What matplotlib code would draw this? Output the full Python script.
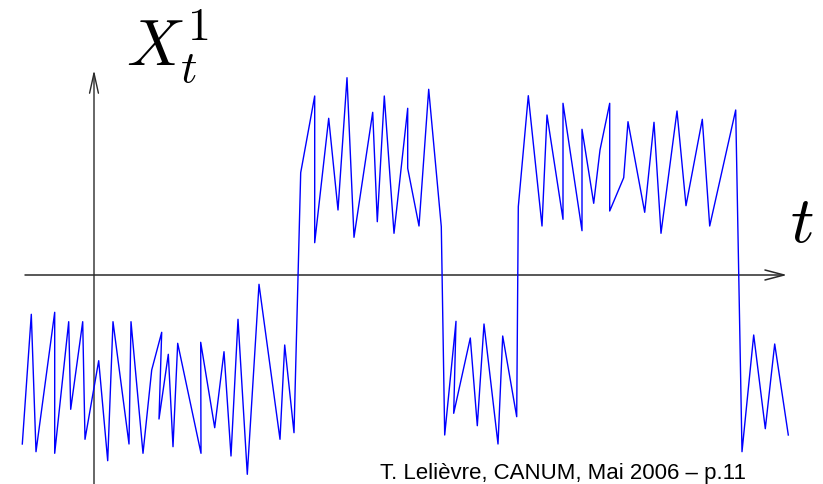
import matplotlib
matplotlib.use("Agg")
import matplotlib.pyplot as plt

plt.rcParams['mathtext.fontset'] = 'cm'

# Path of X_t^1 (time t, value X)
t_vals = [-0.717, -0.627, -0.58, -0.393, -0.393, -0.253, -0.233, -0.113, -0.09, 0.047,
          0.137, 0.19, 0.35, 0.37, 0.49, 0.577, 0.677, 0.65, 0.743, 0.79,
          0.837, 1.07, 1.067, 1.207, 1.30, 1.37, 1.44, 1.533, 1.65, 1.86,
          1.907, 2.00, 2.067, 2.207, 2.207, 2.347, 2.44, 2.53, 2.60, 2.787,
          2.833, 2.903, 3.00, 3.137, 3.137, 3.25, 3.347, 3.473, 3.507, 3.62,
          3.597, 3.763, 3.833, 3.90, 4.04, 4.087, 4.227, 4.243, 4.343, 4.48,
          4.53, 4.69, 4.69, 4.88, 4.88, 4.997, 5.06, 5.157, 5.157, 5.297,
          5.34, 5.507, 5.60, 5.67, 5.83, 5.92, 6.083, 6.157, 6.417, 6.48,
          6.597, 6.713, 6.807, 6.943]
x_vals = [-1.69, -0.393, -1.767, -0.373, -1.783, -0.467, -1.343, -0.467, -1.643, -0.857,
          -1.857, -0.467, -1.69, -0.467, -1.783, -0.95, -0.573, -1.44, -0.793, -1.717,
          -0.683, -1.783, -0.673, -1.527, -0.767, -1.81, -0.443, -1.993, -0.093, -1.643,
          -0.70, -1.577, 1.023, 1.79, 0.323, 1.567, 0.65, 1.973, 0.377, 1.627,
          0.533, 1.79, 0.417, 1.667, 1.067, 0.49, 1.857, 0.483, -1.60, -0.463,
          -1.383, -0.63, -1.507, -0.49, -1.69, -0.61, -1.417, 0.683, 1.793, 0.49,
          1.60, 0.557, 1.717, 0.443, 1.457, 0.717, 1.25, 1.717, 0.64, 0.973,
          1.533, 0.627, 1.527, 0.417, 1.64, 0.693, 1.557, 0.49, 1.65, -1.767,
          -0.60, -1.537, -0.69, -1.60]

y_label = r'$X_t^1$'
x_label = r'$t$'
footer = 'T. Lelièvre, CANUM, Mai 2006 – p.11'

fig = plt.figure(figsize=(8.23, 4.84), dpi=100)
ax = fig.add_axes([0, 0, 1, 1])
ax.set_xlim(-0.94, 7.29)
ax.set_ylim(-2.09, 2.75)
ax.axis('off')

# axes with arrows
ax.annotate('', xy=(6.93, 0), xytext=(-0.69, 0),
            arrowprops=dict(arrowstyle='->,head_length=1.37,head_width=0.36',
                            color='#2a2a2a', lw=1.1, shrinkA=0, shrinkB=0))
ax.annotate('', xy=(0, 2.05), xytext=(0, -2.2),
            arrowprops=dict(arrowstyle='->,head_length=1.44,head_width=0.32',
                            color='#2a2a2a', lw=1.0, shrinkA=0, shrinkB=0))

ax.plot(t_vals, x_vals, color='#0000ff', lw=1.0, zorder=3)

ax.text(0.325, 2.09, y_label, fontsize=47, ha='left', va='baseline')
ax.text(6.965, 0.33, x_label, fontsize=47, ha='left', va='baseline')

fig.text(380 / 823, (484 - 479.5) / 484, footer, fontsize=16,
         family='Liberation Sans', ha='left', va='baseline')

fig.savefig('out.png', dpi=100)
